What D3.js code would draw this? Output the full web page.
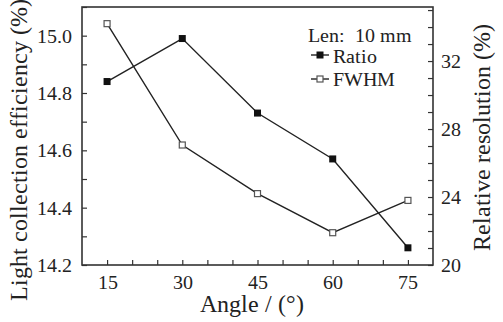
<!DOCTYPE html>
<html lang="en">
<head>
<meta charset="UTF-8">
<title>Angle chart</title>
<style>
@font-face { font-family: "ChartSerif"; src: local("Liberation Serif"), local("LiberationSerif-Regular"), local("Times New Roman"); }
body { margin: 0; }
#chart text { font-family: "ChartSerif", "Liberation Serif", "Times New Roman", serif !important; }
</style>
</head>
<body>
<svg id="chart" width="503" height="322"></svg>
<script src="https://d3js.org/d3.v7.min.js"></script>
<script>

// data
var angles = [15, 30, 45, 60, 75];
var ratio = [14.84, 14.99, 14.73, 14.57, 14.26];   // left axis, %
var fwhm = [34.2, 27.06, 24.2, 21.9, 23.8];        // right axis, %
var xTicks = [15, 30, 45, 60, 75];
var yLeftTicks = [14.2, 14.4, 14.6, 14.8, 15.0];
var yRightTicks = [20, 24, 28, 32];

var margin = {top: 7, left: 82};
var width = 433 - margin.left, height = 265 - margin.top;

var svg = d3.select("#chart");
var g = svg.append("g")
    .attr("transform", "translate(" + margin.left + "," + margin.top + ")");

var x = d3.scaleLinear().domain([10, 80]).range([0, width]);
var yL = d3.scaleLinear().domain([14.2, 15.1]).range([height, 0]);
var yR = d3.scaleLinear().domain([20, 35.18]).range([height, 0]);

// axes, ticks pointing inward
var xAx = g.append("g").attr("transform", "translate(0," + height + ")")
  .call(d3.axisBottom(x).tickValues(d3.range(15, 80, 5)).tickSize(-5)
    .tickFormat(function(d) { return xTicks.indexOf(d) >= 0 ? d : ""; }).tickPadding(10));
var yAxL = g.append("g")
  .call(d3.axisLeft(yL).tickValues(d3.range(14.2, 15.15, 0.1)).tickSize(-5)
    .tickFormat(function(d) {
      var r = Math.round(d * 10) / 10;
      return yLeftTicks.some(function(t) { return Math.abs(t - r) < 1e-6; }) ? r.toFixed(1) : "";
    }).tickPadding(10));
var yAxR = g.append("g").attr("transform", "translate(" + width + ",0)")
  .call(d3.axisRight(yR).tickValues(d3.range(20, 36, 1)).tickSize(-5)
    .tickFormat(function(d) { return yRightTicks.indexOf(d) >= 0 ? d : ""; }).tickPadding(8));

[xAx, yAxL, yAxR].forEach(function(a) {
  a.attr("font-family", null).attr("font-size", null);
  a.select(".domain").remove();
  a.selectAll("line").attr("stroke", "#333").attr("stroke-width", 1.2);
  a.selectAll("text").attr("font-size", 20).attr("fill", "#222");
});

// frame
g.append("rect").attr("width", width).attr("height", height)
  .attr("fill", "none").attr("stroke", "#333").attr("stroke-width", 1.6);

// lines
var lineL = d3.line().x(function(d, i) { return x(angles[i]); }).y(function(d) { return yL(d); });
var lineR = d3.line().x(function(d, i) { return x(angles[i]); }).y(function(d) { return yR(d); });

g.append("path").datum(ratio).attr("d", lineL)
  .attr("fill", "none").attr("stroke", "#222").attr("stroke-width", 1.4);
g.append("path").datum(fwhm).attr("d", lineR)
  .attr("fill", "none").attr("stroke", "#222").attr("stroke-width", 1.4);

var s = 7;
g.selectAll(".ratioPt").data(ratio).enter().append("rect")
  .attr("x", function(d, i) { return x(angles[i]) - s / 2; })
  .attr("y", function(d) { return yL(d) - s / 2; })
  .attr("width", s).attr("height", s).attr("fill", "#111");
g.selectAll(".fwhmPt").data(fwhm).enter().append("rect")
  .attr("x", function(d, i) { return x(angles[i]) - s / 2 + 0.5; })
  .attr("y", function(d) { return yR(d) - s / 2 + 0.5; })
  .attr("width", s - 1).attr("height", s - 1)
  .attr("fill", "#fff").attr("stroke", "#555").attr("stroke-width", 1.2);

function label(sel, size) {
  return sel.attr("font-size", size).attr("fill", "#222");
}

// legend
var lg = svg.append("g");
label(lg.append("text"), 20).attr("x", 308).attr("y", 42).text("Len:  10 mm").attr("xml:space", "preserve");
lg.append("line").attr("x1", 311).attr("x2", 329).attr("y1", 55).attr("y2", 55)
  .attr("stroke", "#222").attr("stroke-width", 1.4);
lg.append("rect").attr("x", 316.5).attr("y", 51.5).attr("width", 7).attr("height", 7).attr("fill", "#111");
label(lg.append("text"), 20).attr("x", 333).attr("y", 63).text("Ratio");
lg.append("line").attr("x1", 311).attr("x2", 329).attr("y1", 79).attr("y2", 79)
  .attr("stroke", "#222").attr("stroke-width", 1.4);
lg.append("rect").attr("x", 317).attr("y", 76).attr("width", 6).attr("height", 6)
  .attr("fill", "#fff").attr("stroke", "#555").attr("stroke-width", 1.2);
label(lg.append("text"), 20).attr("x", 333).attr("y", 86).text("FWHM");

// axis titles
label(svg.append("text"), 24).attr("x", 252).attr("y", 312).attr("text-anchor", "middle")
  .text("Angle / (\u00b0)");
label(svg.append("text"), 24).attr("transform", "translate(27,150) rotate(-90)")
  .attr("text-anchor", "middle").text("Light collection efficiency (%)");
label(svg.append("text"), 24).attr("transform", "translate(490,137) rotate(-90)")
  .attr("text-anchor", "middle").text("Relative resolution (%)");

</script>
</body>
</html>
